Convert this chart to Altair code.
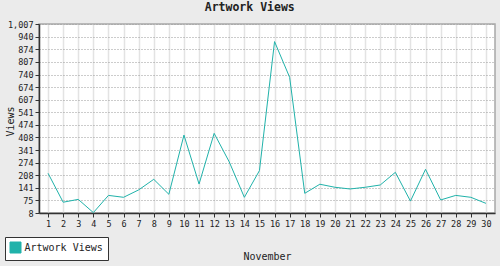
import altair as alt
import pandas as pd

days = list(range(1, 31))
views = [218, 65, 80, 10, 101, 91, 130, 186, 107, 420, 161, 429, 278, 91, 232,
         914, 725, 112, 160, 144, 135, 144, 156, 223, 71, 239, 77, 101, 91, 59]
y_ticks = [8, 75, 141, 208, 274, 341, 408, 474, 541, 607, 674, 740, 807, 874, 940, 1007]
series_name = "Artwork Views"

df = pd.DataFrame({"day": days, "views": views, "series": [series_name] * len(days)})

FONT = "DejaVu Sans Mono"
TEAL = "#20B2AA"

chart = alt.Chart(df).mark_line(strokeWidth=1).encode(
    x=alt.X(
        "day:Q",
        scale=alt.Scale(domain=[0.4, 30.6], nice=False, zero=False),
        axis=alt.Axis(
            values=days, title="November", format="d",
            grid=True, gridColor="#E3E3E3", gridWidth=1.5,
            labelFont=FONT, labelFontSize=8.5, labelColor="#222", labelPadding=2,
            tickSize=4, tickColor="#333", domainColor="#333", domainWidth=1.5,
            titleFont=FONT, titleFontSize=10, titleFontWeight="normal", titleColor="#222",
            titlePadding=24, labelFlush=False, labelOverlap=False,
        ),
    ),
    y=alt.Y(
        "views:Q",
        scale=alt.Scale(domain=[8, 1007], nice=False, zero=False),
        axis=alt.Axis(
            values=y_ticks, title="Views", format=",.0f",
            grid=True, gridColor="#999999", gridDash=[1, 2], gridWidth=1,
            labelFont=FONT, labelFontSize=8.5, labelColor="#222", labelPadding=2,
            tickSize=4, tickColor="#333", domainColor="#333", domainWidth=1.5,
            titleFont=FONT, titleFontSize=10, titleFontWeight="normal", titleColor="#222",
            titleX=-24, titleY=97, labelFlush=False, labelOverlap=False,
        ),
    ),
    color=alt.Color(
        "series:N",
        scale=alt.Scale(range=[TEAL]),
        legend=alt.Legend(
            title=None, orient="none", legendX=-34, legendY=213,
            symbolType="square", symbolSize=121, symbolFillColor=TEAL,
            symbolStrokeColor="#333", symbolStrokeWidth=1,
            labelFont=FONT, labelFontSize=10, labelColor="#222", labelOffset=3,
            fillColor="white", strokeColor="#333", padding=4.5, cornerRadius=0,
        ),
    ),
).properties(
    width=456,
    height=189,
    title=alt.TitleParams(
        text="Artwork Views", font=FONT, fontSize=11.5, fontWeight="bold",
        color="#222", anchor="middle", frame="bounds", offset=7,
    ),
    background="#EBEBEB",
    autosize=alt.AutoSizeParams(type="none"),
    padding={"left": 39, "top": 24, "right": 5, "bottom": 53},
).configure_view(
    fill="white", stroke="#A8A8A8", strokeWidth=1.5,
)

chart.save("out.html", embed_options={"renderer": "svg", "actions": False})
